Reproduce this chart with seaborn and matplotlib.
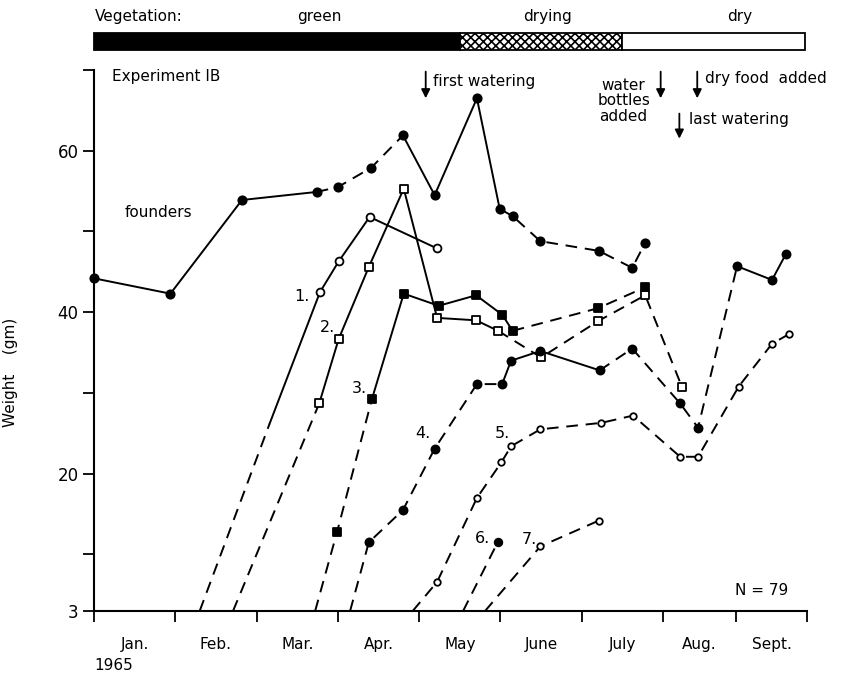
import numpy as np
import pandas as pd
import matplotlib
matplotlib.use("Agg")
import matplotlib.pyplot as plt
import seaborn as sns

# ---- data: months since 1 Jan 1965 (x) and body weight in gm (y) ----
founders_x = [0.00, 0.94, 1.82, 2.74, 3.00, 3.41, 3.80, 4.19, 4.71, 4.99, 5.15, 5.49, 6.21, 6.62, 6.78]
founders_y = [44.2, 42.3, 53.9, 54.9, 55.5, 57.9, 61.9, 54.5, 66.5, 52.8, 51.9, 48.8, 47.6, 45.5, 48.6]

c1_x = [1.30, 2.16, 2.78, 3.01, 3.39, 4.22]
c1_y = [3.0, 26.2, 42.5, 46.3, 51.8, 47.9]

c2_x = [1.71, 2.77, 3.01, 3.38, 3.81, 4.22, 4.70, 4.97, 5.50, 6.20, 6.78, 7.23]
c2_y = [3.0, 28.7, 36.7, 45.6, 55.3, 39.3, 39.0, 37.7, 34.4, 38.9, 42.1, 30.8]

c3_x = [2.72, 2.99, 3.42, 3.81, 4.24, 4.70, 5.02, 5.15, 6.20, 6.78]
c3_y = [3.0, 12.8, 29.3, 42.3, 40.8, 42.1, 39.7, 37.7, 40.5, 43.1]

c4_x = [3.15, 3.38, 3.80, 4.19, 4.71, 5.02, 5.13, 5.49, 6.22, 6.62, 7.21, 7.43, 7.91, 8.34, 8.51]
c4_y = [3.0, 11.5, 15.5, 23.1, 31.1, 31.1, 34.0, 35.2, 32.8, 35.5, 28.7, 25.7, 45.7, 44.0, 47.2]

c5_x = [3.92, 4.22, 4.71, 5.01, 5.13, 5.49, 6.24, 6.63, 7.21, 7.43, 7.93, 8.34, 8.55]
c5_y = [3.0, 6.6, 17.0, 21.4, 23.4, 25.5, 26.3, 27.2, 22.1, 22.1, 30.8, 36.1, 37.3]

c6_x = [4.54, 4.97]
c6_y = [3.0, 11.6]

c7_x = [4.81, 5.49, 6.21]
c7_y = [3.0, 11.0, 14.2]

month_names = ["Jan.", "Feb.", "Mar.", "Apr.", "May", "June", "July", "Aug.", "Sept."]
month_edges = [0, 1, 2, 3, 4, 5, 6, 7, 7.9, 8.77]

veg_labels = ["green", "drying", "dry"]
veg_start = [0.0, 4.50, 6.49]
veg_end = [4.50, 6.49, 8.745]

# ---- figure ----
sns.set_theme(style="white")
plt.rcParams["font.family"] = ["DejaVu Sans"]
plt.rcParams["hatch.linewidth"] = 1.2
for key in ["text.color", "axes.labelcolor", "xtick.color", "ytick.color", "axes.edgecolor"]:
    plt.rcParams[key] = "black"

W, H = 852, 677
fig = plt.figure(figsize=(W / 100, H / 100), dpi=100)
fig.patch.set_facecolor("white")

L, R, B, T = 94, 807, 611, 70
ax = fig.add_axes([L / W, 1 - B / H, (R - L) / W, (B - T) / H])
ax.set_facecolor("white")
ax.set_xlim(0, 8.77)
ax.set_ylim(3, 70)

DASH = (0, (6, 4))
LW = 1.4


def draw_series(xs, ys, seg_styles, first_marked, marker, filled, size):
    df = pd.DataFrame({"month": xs, "weight": ys})
    i = 0
    n = len(seg_styles)
    while i < n:
        j = i
        while j + 1 < n and seg_styles[j + 1] == seg_styles[i]:
            j += 1
        part = df.iloc[i:j + 2]
        sns.lineplot(data=part, x="month", y="weight", ax=ax, color="black",
                     lw=LW, sort=False, estimator=None, legend=False,
                     linestyle="-" if seg_styles[i] == "s" else DASH)
        i = j + 1
    pts = df.iloc[first_marked:]
    sns.scatterplot(data=pts, x="month", y="weight", ax=ax, marker=marker, s=size,
                    color="black" if filled else "white", edgecolor="black",
                    linewidth=1.3, zorder=4, legend=False, clip_on=False)


# segment styles: 's' solid, 'd' dashed (one per segment between points)
draw_series(founders_x, founders_y, "sssdddsssddddd", 0, "o", True, 36)
draw_series(c1_x, c1_y, "dssss", 2, "o", False, 32)
draw_series(c2_x, c2_y, "dssssssdddd", 1, "s", False, 30)
draw_series(c3_x, c3_y, "ddsssssdd", 1, "s", True, 30)
draw_series(c4_x, c4_y, "dddddsssddddss", 1, "o", True, 34)
draw_series(c5_x, c5_y, "dddddddddddds", 1, "o", False, 22)
draw_series(c6_x, c6_y, "d", 1, "o", True, 30)
draw_series(c7_x, c7_y, "dd", 1, "o", False, 22)

# cohort labels
cohort_labels = ["1.", "2.", "3.", "4.", "5.", "6.", "7."]
label_pos = [(2.56, 42.0), (2.87, 38.1), (3.27, 30.5), (4.05, 25.0),
             (5.02, 25.0), (4.78, 12.0), (5.36, 11.8)]
for txt, (lx, ly) in zip(cohort_labels, label_pos):
    ax.text(lx, ly, txt, fontsize=11.5, ha="center", va="center")

ax.text(0.38, 52.3, "founders", fontsize=11, ha="left", va="center")
ax.text(0.22, 69.2, "Experiment IB", fontsize=11, ha="left", va="center")
ax.text(7.88, 5.6, "N = 79", fontsize=11, ha="left", va="center")

# event arrows
arrow_kw = dict(arrowstyle="-|>", color="black", lw=1.3, mutation_scale=13,
                shrinkA=0, shrinkB=0)
for ax_x, y0, y1 in [(4.08, 69.8, 66.5), (6.97, 69.8, 66.5),
                     (7.42, 69.8, 66.5), (7.20, 64.6, 61.5)]:
    ax.annotate("", xy=(ax_x, y1), xytext=(ax_x, y0), arrowprops=arrow_kw,
                annotation_clip=False)
ax.text(4.17, 68.6, "first watering", fontsize=11, ha="left", va="center")
ax.text(6.84, 66.2, "water\nbottles\nadded", fontsize=11, ha="right", va="center",
        multialignment="center", linespacing=1.05)
ax.text(7.52, 69.0, "dry food  added", fontsize=11, ha="left", va="center")
ax.text(7.32, 63.9, "last watering", fontsize=11, ha="left", va="center")

# axes styling
for side in ["top", "right"]:
    ax.spines[side].set_visible(False)
for side in ["left", "bottom"]:
    ax.spines[side].set_color("black")
    ax.spines[side].set_linewidth(1.5)

ax.set_yticks([3, 20, 40, 60])
ax.set_yticklabels(["3", "20", "40", "60"])
ax.set_yticks([10, 30, 50, 70], minor=True)
ax.tick_params(axis="y", which="both", direction="out", length=8, width=1.3,
               color="black", labelcolor="black", labelsize=12, pad=3, left=True)

ax.set_xticks(month_edges)
ax.set_xticklabels([""] * len(month_edges))
centers = [(a + b) / 2 for a, b in zip(month_edges[:-1], month_edges[1:])]
ax.set_xticks(centers, minor=True)
ax.set_xticklabels(month_names, minor=True)
ax.tick_params(axis="x", which="major", direction="out", length=8, width=1.3,
               color="black", bottom=True)
ax.tick_params(axis="x", which="minor", length=0, pad=19, labelsize=11,
               labelcolor="black", bottom=True)
ax.set_xlabel("")
ax.text(0.0, -0.10, "1965", transform=ax.transAxes, fontsize=11, ha="left", va="center")

ax.set_ylabel("Weight    (gm)", fontsize=11, color="black")
ax.yaxis.set_label_coords(-0.107, 0.442)

# vegetation bar across the top
axv = fig.add_axes([L / W, 1 - 50 / H, (R - L) / W, 17 / H])
axv.set_xlim(0, 8.77)
axv.set_ylim(0, 1)
axv.axis("off")
veg_face = ["black", "white", "white"]
veg_hatch = [None, "xxxx", None]
for s, e, fc, h in zip(veg_start, veg_end, veg_face, veg_hatch):
    axv.barh(0.5, e - s, left=s, height=1.0, color=fc, edgecolor="black",
             linewidth=1.3, hatch=h, clip_on=False)

fig.text(95 / W, 1 - 17 / H, "Vegetation:", fontsize=11, ha="left", va="center")
for txt, px in zip(veg_labels, [319, 548, 740]):
    fig.text(px / W, 1 - 17 / H, txt, fontsize=11, ha="center", va="center")

fig.savefig("out.png", dpi=100, facecolor="white")
